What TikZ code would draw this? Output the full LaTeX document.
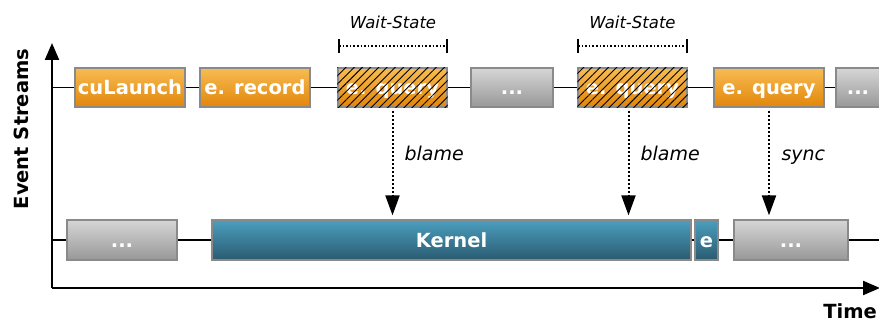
\documentclass[tikz,border=0pt]{standalone}
\usepackage{fontspec}
\setmainfont{DejaVu Sans}
\usetikzlibrary{arrows.meta,patterns.meta,calc}

\definecolor{orTop}{HTML}{F7BC52}
\definecolor{orBot}{HTML}{E2860A}
\definecolor{grTop}{HTML}{D6D6D6}
\definecolor{grBot}{HTML}{989898}
\definecolor{knTop}{HTML}{4B9EBF}
\definecolor{knBot}{HTML}{2A5B70}
\definecolor{boxline}{HTML}{8A8A8A}

\tikzset{
  box/.style={draw=boxline, line width=1.3pt, inner sep=0pt, text=white,
    font=\fontsize{19.5}{21}\selectfont\bfseries,
    text height=14.2pt, text depth=0pt},
  topbox/.style={box, minimum height=39pt},
  lowbox/.style={box, minimum height=40pt},
  orangebox/.style={top color=orTop, bottom color=orBot},
  graybox/.style={top color=grTop, bottom color=grBot},
  kernelbox/.style={top color=knTop, bottom color=knBot},
  hatch/.style={pattern={Lines[angle=45, distance=5.8pt, line width=0.9pt]},
    pattern color=black},
  stream/.style={line width=1.3pt},
  axis/.style={line width=2.2pt, -{Triangle[width=14pt,length=17pt]}},
  causearrow/.style={line width=2pt, dotted,
    -{Triangle[width=14pt,length=20pt]}, shorten <=3pt, shorten >=4pt},
  arrowlabel/.style={anchor=base west, font=\fontsize{19}{21}\selectfont\itshape},
  waitlabel/.style={font=\fontsize{16.5}{18}\selectfont\itshape},
  axislabel/.style={font=\fontsize{19.5}{21}\selectfont\bfseries}
}

\begin{document}
\begin{tikzpicture}[x=1pt, y=-1pt]
\useasboundingbox (0,0) rectangle (879,323);

% axes
\coordinate (origin) at (52,288);
\coordinate (ytop) at (52,43);
\coordinate (xend) at (880,288);
\draw[axis] (origin) -- (ytop);
\draw[axis] (origin) -- (xend);
\node[axislabel, rotate=90] (ylab) at (21,129) {Event Streams};
\node[axislabel, anchor=base east, inner sep=1pt] (xlab) at (878,319) {Time};

% upper stream: host events
\coordinate (t0) at (52,87.5);
\node[topbox, orangebox, minimum width=110pt] (cu)  at (130,87.5) {cuLaunch};
\node[topbox, orangebox, minimum width=110pt] (rec) at (255,87.5) {e. record};
\node[topbox, orangebox, minimum width=109pt] (q1)  at (392.5,87.5) {e. query};
\node[topbox, graybox,   minimum width=82pt]  (d1)  at (512,87.5) {...};
\node[topbox, orangebox, minimum width=109pt] (q2)  at (632.5,87.5) {e. query};
\node[topbox, orangebox, minimum width=110pt] (q3)  at (769,87.5) {e. query};
\node[topbox, graybox,   minimum width=44pt]  (d2)  at (858,87.5) {...};
\fill[hatch] (q1.south west) rectangle (q1.north east);
\fill[hatch] (q2.south west) rectangle (q2.north east);

\draw[stream] (t0) -- (cu);
\draw[stream] (cu) -- (rec);
\draw[stream] (rec) -- (q1);
\draw[stream] (q1) -- (d1);
\draw[stream] (d1) -- (q2);
\draw[stream] (q2) -- (q3);
\draw[stream] (q3) -- (d2);

% lower stream: device activity
\coordinate (b0) at (52,240);
\coordinate (bend) at (880,240);
\node[lowbox, graybox,   minimum width=110pt] (d3) at (122,240) {...};
\node[lowbox, kernelbox, minimum width=479pt] (kn) at (451.5,240) {Kernel};
\node[lowbox, kernelbox, minimum width=23pt]  (ev) at (706.5,240) {e};
\node[lowbox, graybox,   minimum width=114pt] (d4) at (791,240) {...};

\draw[stream] (b0) -- (d3);
\draw[stream] (d3) -- (kn);
\draw[stream] (kn) -- (ev);
\draw[stream] (ev) -- (d4);
\draw[stream] (d4) -- (bend);

% wait-state markers
\foreach \a/\b/\n in {339/447/w1, 578/687/w2}{
  \coordinate (\n a) at (\a,46);
  \coordinate (\n b) at (\b,46);
  \draw[line width=1.6pt, dotted] (\n a) -- (\n b);
  \draw[line width=1.4pt] ([yshift=-7pt]\n a) -- ([yshift=7pt]\n a);
  \draw[line width=1.4pt] ([yshift=-7pt]\n b) -- ([yshift=7pt]\n b);
  \node[waitlabel] (\n lab) at ($(\n a)!0.5!(\n b)+(0,-24)$) {Wait-State};
}

% blame / sync relations
\draw[causearrow] (q1.south) -- (q1.south |- kn.north);
\draw[causearrow] ([xshift=-4pt]q2.south) -- ([xshift=-4pt]q2.south |- kn.north);
\draw[causearrow] (q3.south) -- (q3.south |- d4.north);
\node[arrowlabel] (bl1) at (401,161) {blame};
\node[arrowlabel] (bl2) at (637,161) {blame};
\node[arrowlabel] (sy)  at (778,161) {sync};
\end{tikzpicture}
\end{document}
